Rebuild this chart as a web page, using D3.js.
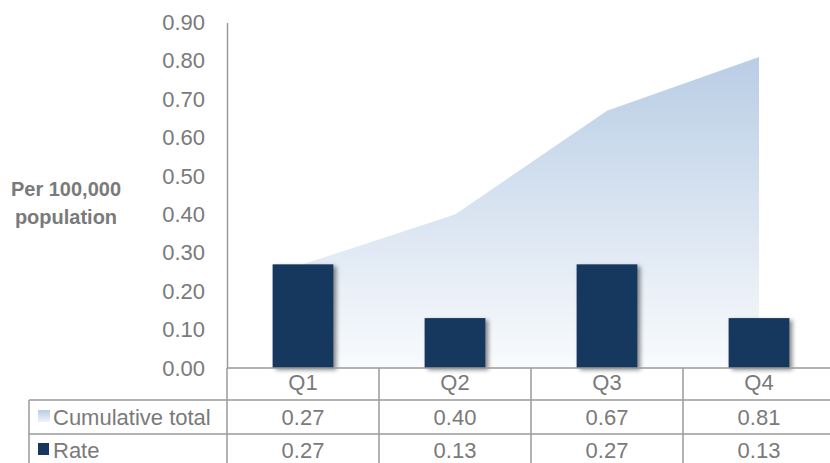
<!DOCTYPE html>
<html>
<head>
<meta charset="utf-8">
<script src="https://cdn.jsdelivr.net/npm/d3@7"></script>
<style>
  html, body { margin: 0; padding: 0; background: #fff; }
  svg { display: block; font-family: "Liberation Sans", Arial, sans-serif; }
</style>
</head>
<body>
<svg id="chart" width="830" height="463"></svg>
<script>
// Quarterly rate with running cumulative total, per 100,000 population
const quarters = ["Q1", "Q2", "Q3", "Q4"];
const cumulativeTotal = [0.27, 0.40, 0.67, 0.81];
const rate = [0.27, 0.13, 0.27, 0.13];
const yTicks = [0, 0.1, 0.2, 0.3, 0.4, 0.5, 0.6, 0.7, 0.8, 0.9];
const seriesNames = ["Cumulative total", "Rate"];

const svg = d3.select("#chart");
const navy = "#17375e";
const textGrey = "#7a7a7a";
const lineGrey = "#9a9a9a";

const x = d3.scaleBand().domain(quarters).range([227, 835]).padding(0);
const y = d3.scaleLinear().domain([0, 0.9]).range([368, 22.5]);

const defs = svg.append("defs");
const grad = defs.append("linearGradient")
  .attr("id", "cumFill").attr("x1", 0).attr("y1", 0).attr("x2", 0).attr("y2", 1);
grad.append("stop").attr("offset", "0%").attr("stop-color", "#b9cde5");
grad.append("stop").attr("offset", "100%").attr("stop-color", "#f9fbfd");

const gradS = defs.append("linearGradient")
  .attr("id", "cumSwatch").attr("x1", 0).attr("y1", 0).attr("x2", 0).attr("y2", 1);
gradS.append("stop").attr("offset", "0%").attr("stop-color", "#b9cde5");
gradS.append("stop").attr("offset", "100%").attr("stop-color", "#eef3f9");

const shadow = defs.append("filter").attr("id", "barShadow")
  .attr("x", "-20%").attr("y", "-20%").attr("width", "160%").attr("height", "140%");
shadow.append("feDropShadow")
  .attr("dx", 3).attr("dy", 2).attr("stdDeviation", 2)
  .attr("flood-color", "#000").attr("flood-opacity", 0.45);

// Cumulative area, from band centres down to the baseline
const cx = q => x(q) + x.bandwidth() / 2;
const area = d3.area()
  .x((d, i) => cx(quarters[i]))
  .y0(y(0))
  .y1(d => y(d));
svg.append("path")
  .datum(cumulativeTotal)
  .attr("d", area)
  .attr("fill", "url(#cumFill)");

// Rate bars
const barW = x.bandwidth() * 0.4;
svg.append("g").selectAll("rect")
  .data(rate)
  .join("rect")
  .attr("x", (d, i) => cx(quarters[i]) - barW / 2)
  .attr("y", d => y(d))
  .attr("width", barW)
  .attr("height", d => y(0) - y(d))
  .attr("fill", navy)
  .attr("filter", "url(#barShadow)");

// Y axis
const yAxis = d3.axisLeft(y)
  .tickValues(yTicks)
  .tickFormat(d3.format(".2f"))
  .tickSize(0)
  .tickPadding(22);
const gy = svg.append("g").attr("transform", "translate(227,0)").call(yAxis);
gy.select(".domain").attr("stroke", lineGrey).attr("stroke-width", 1.5);
gy.selectAll("text")
  .attr("font-size", 22)
  .attr("fill", textGrey)
  .attr("font-family", "Liberation Sans, Arial, sans-serif");

// Axis title
const title = svg.append("text")
  .attr("text-anchor", "middle")
  .attr("font-size", 20)
  .attr("font-weight", "bold")
  .attr("fill", textGrey);
title.append("tspan").attr("x", 66).attr("y", 196).text("Per 100,000");
title.append("tspan").attr("x", 66).attr("y", 224).text("population");

// Data table under the axis
const tableLines = svg.append("g").attr("stroke", lineGrey).attr("stroke-width", 1.5);
const rowTop = [368, 400, 434];
const rowMid = [382, 417, 450];
tableLines.append("line").attr("x1", 227).attr("x2", 835).attr("y1", rowTop[0]).attr("y2", rowTop[0]);
tableLines.append("line").attr("x1", 29).attr("x2", 835).attr("y1", rowTop[1]).attr("y2", rowTop[1]);
tableLines.append("line").attr("x1", 29).attr("x2", 835).attr("y1", rowTop[2]).attr("y2", rowTop[2]);
tableLines.append("line").attr("x1", 29).attr("x2", 29).attr("y1", rowTop[1]).attr("y2", 470);
tableLines.selectAll("line.v")
  .data(quarters)
  .join("line")
  .attr("class", "v")
  .attr("x1", q => x(q)).attr("x2", q => x(q))
  .attr("y1", rowTop[0]).attr("y2", 470);

const cellText = svg.append("g")
  .attr("font-size", 22)
  .attr("fill", textGrey)
  .attr("text-anchor", "middle")
  .attr("dominant-baseline", "central");

cellText.selectAll("text.q")
  .data(quarters).join("text").attr("class", "q")
  .attr("x", q => cx(q)).attr("y", rowMid[0]).text(q => q);
cellText.selectAll("text.c")
  .data(cumulativeTotal).join("text").attr("class", "c")
  .attr("x", (d, i) => cx(quarters[i])).attr("y", rowMid[1]).text(d3.format(".2f"));
cellText.selectAll("text.r")
  .data(rate).join("text").attr("class", "r")
  .attr("x", (d, i) => cx(quarters[i])).attr("y", rowMid[2]).text(d3.format(".2f"));

// Row headers with series keys
svg.append("rect").attr("x", 38).attr("y", 410).attr("width", 12).attr("height", 12)
  .attr("fill", "url(#cumSwatch)");
svg.append("rect").attr("x", 38).attr("y", 443).attr("width", 11).attr("height", 12)
  .attr("fill", navy);
svg.append("g")
  .attr("font-size", 22)
  .attr("fill", textGrey)
  .attr("dominant-baseline", "central")
  .selectAll("text")
  .data(seriesNames).join("text")
  .attr("x", 53)
  .attr("y", (d, i) => rowMid[i + 1])
  .text(d => d);
</script>
</body>
</html>
